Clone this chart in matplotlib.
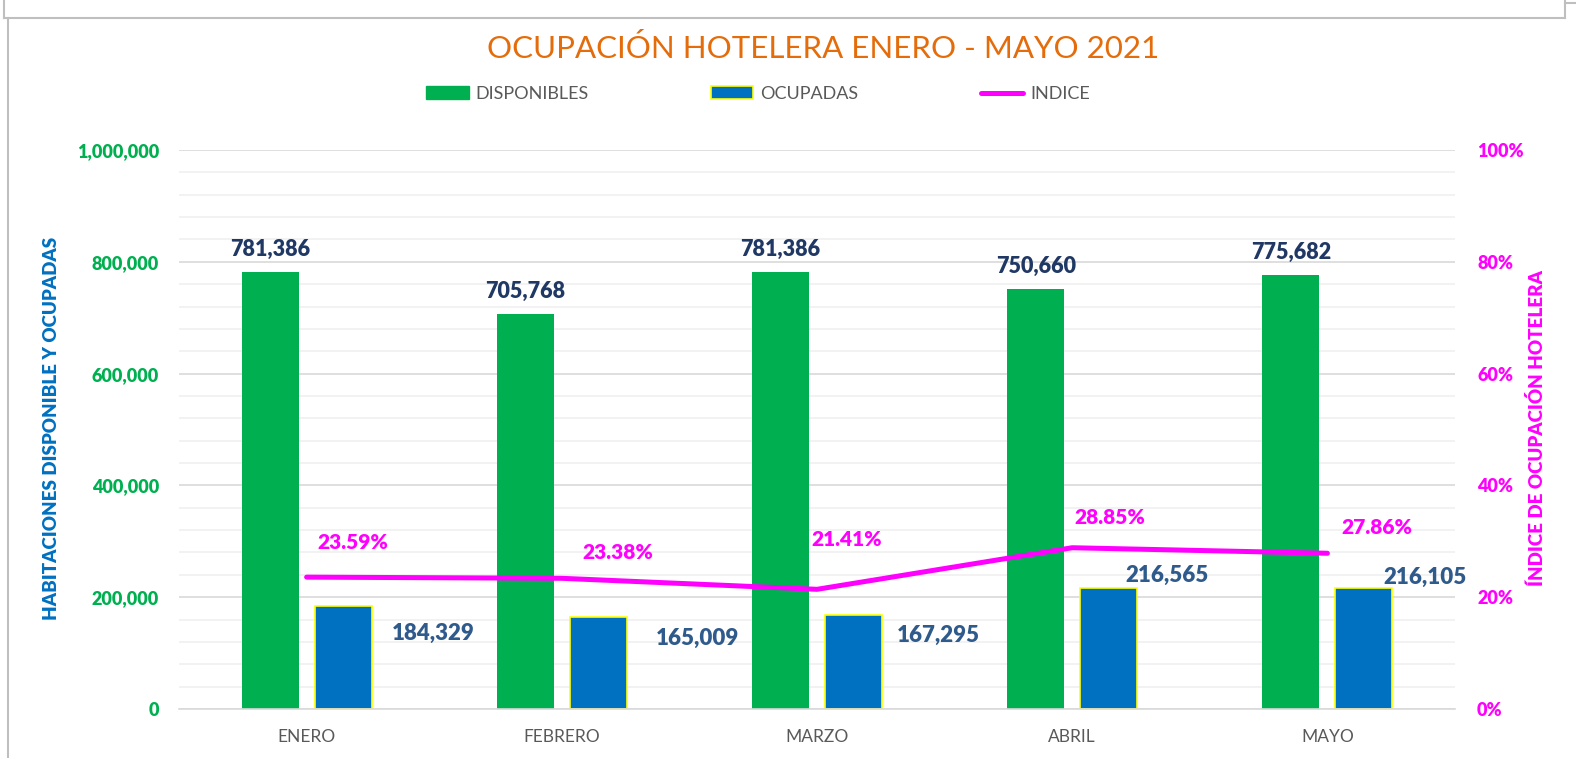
import matplotlib
matplotlib.use("Agg")
import matplotlib.pyplot as plt
import numpy as np
from matplotlib.lines import Line2D
from matplotlib.patches import Patch
from matplotlib.ticker import MultipleLocator

plt.rcParams['font.family'] = ['Lato', 'DejaVu Sans']

# ---- data ----
months = ["ENERO", "FEBRERO", "MARZO", "ABRIL", "MAYO"]
disponibles = [781386, 705768, 781386, 750660, 775682]
ocupadas = [184329, 165009, 167295, 216565, 216105]
indice = [23.59, 23.38, 21.41, 28.85, 27.86]
left_ticks = [0, 200000, 400000, 600000, 800000, 1000000]
right_ticks = [0, 0.2, 0.4, 0.6, 0.8, 1.0]

# ---- style / layout ----
GREEN = "#00B050"
BLUE = "#0070C0"
MAGENTA = "#FF00FF"
ORANGE = "#E46C0A"
NAVY = "#203864"
STEEL = "#2F5A8C"
GRAY = "#595959"
BOLD = 800
PX = 0.72  # points per pixel at 100 dpi

W, H = 1576, 758
fig = plt.figure(figsize=(W / 100, H / 100), dpi=100)
ax = fig.add_axes([179 / W, 1 - 709 / H, 1276 / W, 559 / H])
ax2 = ax.twinx()

x = np.arange(len(months))
bw = 0.223
off = 0.143

ax.set_ylim(0, 1_000_000)
ax.set_xlim(-0.5, len(months) - 0.5)
ax.set_yticks(left_ticks)
ax.set_yticklabels([f"{v:,}" for v in left_ticks], fontweight=BOLD, fontsize=13,
                   color=GREEN)
ax.yaxis.set_minor_locator(MultipleLocator(40_000))
ax.grid(which="minor", axis="y", color="#F0F0F0", linewidth=1.2, zorder=0)
ax.grid(which="major", axis="y", color="#D9D9D9", linewidth=1.2, zorder=0)
ax.set_axisbelow(True)

ax.bar(x - off, disponibles, width=bw, color=GREEN, zorder=2)
ax.bar(x + off, ocupadas, width=bw, color=BLUE, edgecolor="#FFFF00",
       linewidth=1.2, zorder=2)

ax.tick_params(axis="y", which="both", length=0, pad=20 * PX)
ax.set_xticks(x)
ax.set_xticklabels(months, color=GRAY, fontsize=12.5)
ax.tick_params(axis="x", length=0, pad=20 * PX)
for s in ["top", "right", "left"]:
    ax.spines[s].set_visible(False)
ax.spines["bottom"].set_color("#D9D9D9")
ax.spines["bottom"].set_linewidth(1.2)

ax2.set_ylim(0, 1)
ax2.set_yticks(right_ticks)
ax2.set_yticklabels([f"{v*100:.0f}%" for v in right_ticks], fontweight=BOLD,
                    fontsize=13, color=MAGENTA)
ax2.tick_params(axis="y", length=0, pad=22 * PX)
for s in ax2.spines.values():
    s.set_visible(False)

ind_frac = [v / 100 for v in indice]
ax2.plot(x, ind_frac, color=MAGENTA, linewidth=3.6, solid_capstyle="round",
         solid_joinstyle="round", zorder=5)

# labels
for xi, v in zip(x, disponibles):
    ax.annotate(f"{v:,}", (xi - off, v), xytext=(0, 23), textcoords="offset pixels",
                ha="center", va="center", fontsize=15.5, fontweight=BOLD, color=NAVY)

ocu_offsets = [(127, -27), (136, -22), (121, -20), (95, 13), (98, 11)]
for xi, v, (dx, dy) in zip(x, ocupadas, ocu_offsets):
    ax.annotate(f"{v:,}", (xi, v), xytext=(dx, dy), textcoords="offset pixels",
                ha="center", va="center", fontsize=16, fontweight=BOLD, color=STEEL)

pct_offsets = [(46, 35), (56, 26), (30, 50), (38, 30), (49, 26)]
for xi, v, (dx, dy) in zip(x, indice, pct_offsets):
    ax2.annotate(f"{v:.2f}%", (xi, v / 100), xytext=(dx, dy), textcoords="offset pixels",
                 ha="center", va="center", fontsize=15, fontweight=BOLD, color=MAGENTA,
                 zorder=6)

# axis titles
fig.text(52 / W, 1 - 428 / H, "HABITACIONES DISPONIBLE Y OCUPADAS", rotation=90,
         ha="center", va="center", color=BLUE, fontsize=13.5, fontweight=BOLD)
fig.text(1537 / W, 1 - 428 / H, "ÍNDICE DE OCUPACIÓN HOTELERA", rotation=90,
         ha="center", va="center", color=MAGENTA, fontsize=13.5, fontweight=BOLD)

# title
fig.text(823 / W, 1 - 48 / H, "OCUPACIÓN HOTELERA ENERO - MAYO 2021",
         ha="center", va="center", color=ORANGE, fontsize=22.5)

# legend
handles = [Patch(facecolor=GREEN, edgecolor=GREEN),
           Patch(facecolor=BLUE, edgecolor="#FFFF00", linewidth=1.2),
           Line2D([0], [0], color=MAGENTA, linewidth=3.6, solid_capstyle="round")]
fig.legend(handles, ["DISPONIBLES", "OCUPADAS", "INDICE"], ncol=3,
           loc="center", bbox_to_anchor=(758 / W, 1 - 94 / H), frameon=False,
           fontsize=13, handlelength=2.35, handleheight=0.7,
           handletextpad=0.4, columnspacing=6.75, labelcolor=GRAY)

# frame lines (chart container borders)
tr = fig.transFigure
def fline(xs, ys):
    fig.add_artist(Line2D([xx / W for xx in xs], [1 - yy / H for yy in ys],
                          color="#BFBFBF", linewidth=1.5, transform=tr))
fline([4, 1565], [18, 18])
fline([4, 4], [0, 18])
fline([1565, 1565], [0, 18])
fline([1565, 1576], [3, 3])
fline([8, 8], [18, 758])

fig.savefig("out.png", dpi=100)
